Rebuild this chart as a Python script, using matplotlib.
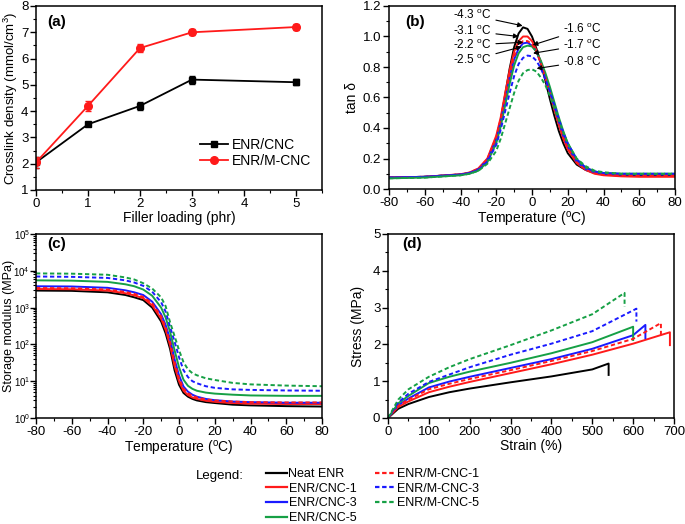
import numpy as np
import matplotlib
matplotlib.use("Agg")
import matplotlib.pyplot as plt
from matplotlib.ticker import MultipleLocator, LogLocator, NullFormatter
from matplotlib.lines import Line2D

plt.rcParams['font.family'] = ['Liberation Sans', 'DejaVu Sans']
plt.rcParams['mathtext.fontset'] = 'custom'
plt.rcParams['mathtext.rm'] = 'Liberation Sans'
plt.rcParams['mathtext.it'] = 'Liberation Sans:italic'
plt.rcParams['mathtext.bf'] = 'Liberation Sans:bold'
plt.rcParams['axes.unicode_minus'] = False

# (a) crosslink density
loading = [0, 1, 2, 3, 5]
cnc_density = [2.05, 3.5, 4.2, 5.2, 5.1]
cnc_err = [0.2, 0.06, 0.15, 0.15, 0.12]
mcnc_density = [2.05, 4.2, 6.4, 7.0, 7.2]
mcnc_err = [0.2, 0.18, 0.15, 0.12, 0.12]

# sample names / styles
names = ['Neat ENR', 'ENR/CNC-1', 'ENR/CNC-3', 'ENR/CNC-5',
         'ENR/M-CNC-1', 'ENR/M-CNC-3', 'ENR/M-CNC-5']
colors = ['black', '#ff1a1a', '#1a1aff', '#16a045', '#ff1a1a', '#1a1aff', '#16a045']
dashed = [False, False, False, False, True, True, True]

# (b) tan delta
temp_b = [-80, -60, -40, -35, -30, -25, -20, -17.5, -15, -12.5, -10, -7.5, -5, -2.5,
          0, 2.5, 5, 7.5, 10, 12.5, 15, 17.5, 20, 25, 30, 35, 40, 50, 60, 80]
tan_neat = [0.075, 0.08, 0.095, 0.105, 0.13, 0.19, 0.33, 0.45, 0.62, 0.79, 0.93, 1.02, 1.06, 1.05,
            1.00, 0.92, 0.82, 0.71, 0.59, 0.48, 0.38, 0.30, 0.235, 0.16, 0.125, 0.105, 0.095, 0.088, 0.085, 0.085]
tan_cnc1 = [0.075, 0.08, 0.097, 0.108, 0.135, 0.2, 0.35, 0.47, 0.63, 0.78, 0.9, 0.97, 1.0, 1.0,
            0.97, 0.91, 0.83, 0.73, 0.63, 0.52, 0.42, 0.33, 0.26, 0.17, 0.125, 0.1, 0.09, 0.083, 0.08, 0.08]
tan_cnc3 = [0.075, 0.08, 0.095, 0.105, 0.13, 0.19, 0.32, 0.44, 0.58, 0.73, 0.85, 0.92, 0.955, 0.96,
            0.94, 0.9, 0.83, 0.74, 0.64, 0.54, 0.44, 0.35, 0.28, 0.18, 0.13, 0.11, 0.1, 0.095, 0.095, 0.095]
tan_cnc5 = [0.07, 0.075, 0.09, 0.1, 0.12, 0.175, 0.3, 0.41, 0.55, 0.69, 0.81, 0.89, 0.93, 0.94,
            0.935, 0.9, 0.84, 0.76, 0.67, 0.57, 0.47, 0.38, 0.3, 0.195, 0.14, 0.115, 0.105, 0.1, 0.1, 0.1]
tan_mcnc1 = [0.075, 0.08, 0.096, 0.107, 0.133, 0.195, 0.34, 0.46, 0.61, 0.75, 0.87, 0.94, 0.97, 0.97,
             0.95, 0.9, 0.82, 0.73, 0.63, 0.53, 0.43, 0.34, 0.27, 0.175, 0.13, 0.105, 0.095, 0.09, 0.09, 0.09]
tan_mcnc3 = [0.075, 0.08, 0.095, 0.105, 0.125, 0.18, 0.29, 0.39, 0.51, 0.63, 0.74, 0.82, 0.86, 0.875,
             0.87, 0.84, 0.79, 0.72, 0.64, 0.55, 0.46, 0.37, 0.3, 0.195, 0.14, 0.115, 0.105, 0.1, 0.1, 0.1]
tan_mcnc5 = [0.07, 0.075, 0.09, 0.1, 0.12, 0.165, 0.25, 0.33, 0.43, 0.53, 0.63, 0.71, 0.76, 0.78,
             0.785, 0.77, 0.73, 0.68, 0.61, 0.53, 0.45, 0.37, 0.3, 0.2, 0.15, 0.12, 0.11, 0.1, 0.1, 0.1]

# (c) storage modulus
temp_c = [-80, -60, -40, -30, -25, -20, -15, -10, -7.5, -5, -2.5, 0, 2.5, 5, 7.5, 10, 15, 20, 30, 40, 60, 80]
mod_neat = [2900, 2850, 2600, 2200, 1900, 1600, 1000, 420, 200, 75, 20, 8, 4.8, 3.8, 3.3, 3.0, 2.7, 2.55, 2.3, 2.2, 2.1, 2.05]
mod_cnc1 = [3200, 3150, 2900, 2450, 2150, 1800, 1150, 500, 250, 95, 26, 10, 5.5, 4.2, 3.6, 3.3, 2.95, 2.75, 2.55, 2.45, 2.4, 2.4]
mod_cnc3 = [3800, 3750, 3450, 2950, 2600, 2200, 1450, 660, 340, 140, 40, 14.5, 7.2, 5.2, 4.3, 3.8, 3.3, 3.05, 2.8, 2.7, 2.6, 2.6]
mod_cnc5 = [5500, 5400, 5000, 4300, 3800, 3100, 2100, 1000, 540, 220, 70, 24, 11, 7.5, 6.2, 5.5, 4.9, 4.6, 4.3, 4.1, 4.0, 4.0]
mod_mcnc1 = [3400, 3350, 3100, 2650, 2350, 1950, 1300, 580, 290, 115, 33, 12, 6.3, 4.7, 4.0, 3.6, 3.2, 3.0, 2.8, 2.7, 2.65, 2.65]
mod_mcnc3 = [7000, 6850, 6400, 5500, 4800, 3900, 2700, 1400, 780, 300, 120, 45, 20, 13, 10, 8.8, 7.3, 6.6, 6.0, 5.8, 5.6, 5.5]
mod_mcnc5 = [8500, 8350, 7800, 6600, 5800, 4600, 3300, 1900, 1100, 400, 170, 70, 33, 21, 16.5, 14.5, 12, 10.8, 9.0, 8.2, 7.6, 7.3]

# (d) stress-strain (last point = break drop)
strain_neat = [0, 25, 50, 100, 150, 200, 300, 400, 500, 540, 540]
stress_neat = [0, 0.25, 0.38, 0.57, 0.70, 0.80, 0.97, 1.13, 1.32, 1.48, 1.17]
strain_cnc1 = [0, 25, 50, 100, 150, 200, 300, 400, 500, 600, 690, 690]
stress_cnc1 = [0, 0.3, 0.45, 0.7, 0.85, 0.98, 1.22, 1.46, 1.72, 2.02, 2.33, 1.98]
strain_cnc3 = [0, 25, 50, 100, 150, 200, 300, 400, 500, 600, 630, 630]
stress_cnc3 = [0, 0.35, 0.53, 0.83, 0.99, 1.12, 1.36, 1.6, 1.88, 2.25, 2.53, 2.17]
strain_cnc5 = [0, 25, 50, 100, 150, 200, 300, 400, 500, 600, 600]
stress_cnc5 = [0, 0.4, 0.6, 0.95, 1.12, 1.26, 1.5, 1.76, 2.06, 2.48, 2.12]
strain_mcnc1 = [0, 25, 50, 100, 150, 200, 300, 400, 500, 600, 668, 668]
stress_mcnc1 = [0, 0.33, 0.5, 0.78, 0.93, 1.06, 1.3, 1.55, 1.82, 2.15, 2.58, 2.21]
strain_mcnc3 = [0, 25, 50, 100, 150, 200, 300, 400, 500, 608, 608]
stress_mcnc3 = [0, 0.42, 0.66, 0.98, 1.18, 1.38, 1.72, 2.02, 2.36, 2.97, 2.62]
strain_mcnc5 = [0, 25, 50, 100, 150, 200, 300, 400, 500, 579, 579]
stress_mcnc5 = [0, 0.5, 0.78, 1.12, 1.38, 1.6, 1.98, 2.38, 2.82, 3.4, 3.02]

tan_all = [tan_neat, tan_cnc1, tan_cnc3, tan_cnc5, tan_mcnc1, tan_mcnc3, tan_mcnc5]
mod_all = [mod_neat, mod_cnc1, mod_cnc3, mod_cnc5, mod_mcnc1, mod_mcnc3, mod_mcnc5]
strain_all = [strain_neat, strain_cnc1, strain_cnc3, strain_cnc5, strain_mcnc1, strain_mcnc3, strain_mcnc5]
stress_all = [stress_neat, stress_cnc1, stress_cnc3, stress_cnc5, stress_mcnc1, stress_mcnc3, stress_mcnc5]

DASH = (0, (2.2, 1.4))
deg = r'$^{\mathrm{o}}$C'
LBL = 10

fig = plt.figure(figsize=(6.85, 5.24), dpi=100)
W, H = 685, 524


def px_axes(l, t, r, b):
    return fig.add_axes([l / W, 1 - b / H, (r - l) / W, (b - t) / H])


def style(ax):
    for s in ax.spines.values():
        s.set_linewidth(1.1)
    ax.tick_params(which='both', direction='out', top=False, right=False, labelsize=9.5, pad=1.5)
    ax.tick_params(which='major', length=4, width=1)
    ax.tick_params(which='minor', length=2, width=0.8)


ax_a = px_axes(36, 6, 322, 190)
ax_b = px_axes(389, 6, 675, 189)
ax_c = px_axes(36, 234, 322, 418)
ax_d = px_axes(388, 234, 674, 418)

# ---- (a)
ax_a.errorbar(loading, cnc_density, yerr=cnc_err, color='black', marker='s', ms=5,
              lw=1.3, capsize=2.5, elinewidth=0.9)
ax_a.errorbar(loading, mcnc_density, yerr=mcnc_err, color='#ff1a1a', marker='o', ms=5.5,
              lw=1.3, capsize=2.5, elinewidth=0.9)
ax_a.set_xlim(0, 5.5)
ax_a.set_ylim(1, 8)
ax_a.xaxis.set_major_locator(MultipleLocator(1))
ax_a.xaxis.set_minor_locator(MultipleLocator(0.5))
ax_a.yaxis.set_major_locator(MultipleLocator(1))
ax_a.yaxis.set_minor_locator(MultipleLocator(0.5))
ax_a.set_xlabel('Filler loading (phr)', fontsize=LBL, labelpad=1)
ax_a.set_ylabel('Crosslink density (mmol/cm$^3$)', fontsize=9.5)
ax_a.yaxis.set_label_coords(-0.055, 0.5)
ax_a.text(0.04, 0.95, '(a)', transform=ax_a.transAxes, fontsize=11, fontweight='bold', va='top')
leg_a = [Line2D([], [], color='black', marker='s', ms=5, lw=1.3),
         Line2D([], [], color='#ff1a1a', marker='o', ms=5.5, lw=1.3)]
ax_a.legend(leg_a, ['ENR/CNC', 'ENR/M-CNC'], loc='upper left', bbox_to_anchor=(0.55, 0.32),
            frameon=False, fontsize=10, handlelength=2.0, handletextpad=0.3,
            labelspacing=0.15, borderpad=0)
style(ax_a)

# ---- (b)
for y, c, d in zip(tan_all, colors, dashed):
    ax_b.plot(temp_b, y, color=c, lw=1.4, ls=DASH if d else '-')
ax_b.set_xlim(-80, 80)
ax_b.set_ylim(0, 1.2)
ax_b.xaxis.set_major_locator(MultipleLocator(20))
ax_b.xaxis.set_minor_locator(MultipleLocator(10))
ax_b.yaxis.set_major_locator(MultipleLocator(0.2))
ax_b.yaxis.set_minor_locator(MultipleLocator(0.1))
ax_b.set_xlabel('Temperature (' + deg + ')', fontsize=LBL, labelpad=1)
ax_b.set_ylabel('tan δ', fontsize=LBL)
ax_b.yaxis.set_label_coords(-0.105, 0.5)
ax_b.text(0.056, 0.95, '(b)', transform=ax_b.transAxes, fontsize=11, fontweight='bold', va='top')

arrow = dict(arrowstyle='-|>', color='black', lw=0.8, mutation_scale=7, shrinkA=1, shrinkB=0)
left_notes = [('-4.3 ', 1.14, (-5.2, 1.07)), ('-3.1 ', 1.035, (-7.5, 1.0)),
              ('-2.2 ', 0.945, (-4.9, 0.962)), ('-2.5 ', 0.846, (-5.8, 0.933))]
for txt, ty, xy in left_notes:
    ax_b.annotate(txt + deg, xy=xy, xytext=(-22.5, ty), ha='right', va='center',
                  fontsize=8.5, arrowprops=arrow)
right_notes = [('-1.6 ', 1.047, (0.4, 0.944)), ('-1.7 ', 0.944, (0.6, 0.89)),
               ('-0.8 ', 0.835, (2.6, 0.79))]
for txt, ty, xy in right_notes:
    ax_b.annotate(txt + deg, xy=xy, xytext=(17.2, ty), ha='left', va='center',
                  fontsize=8.5, arrowprops=arrow)
style(ax_b)

# ---- (c)
for y, c, d in zip(mod_all, colors, dashed):
    ax_c.plot(temp_c, y, color=c, lw=1.4, ls=DASH if d else '-')
ax_c.set_yscale('log')
ax_c.set_xlim(-80, 80)
ax_c.set_ylim(1, 1e5)
ax_c.xaxis.set_major_locator(MultipleLocator(20))
ax_c.xaxis.set_minor_locator(MultipleLocator(10))
ax_c.yaxis.set_major_locator(LogLocator(base=10, numticks=10))
ax_c.yaxis.set_minor_locator(LogLocator(base=10, subs=np.arange(2, 10), numticks=10))
ax_c.yaxis.set_minor_formatter(NullFormatter())
ax_c.set_xlabel('Temperature (' + deg + ')', fontsize=LBL, labelpad=1)
ax_c.set_ylabel('Storage modulus (MPa)', fontsize=9)
ax_c.yaxis.set_label_coords(-0.075, 0.5)
ax_c.text(0.04, 0.985, '(c)', transform=ax_c.transAxes, fontsize=11, fontweight='bold', va='top')
style(ax_c)
ax_c.tick_params(axis='y', which='major', labelsize=7, pad=0.3)

# ---- (d)
for x, y, c, d in zip(strain_all, stress_all, colors, dashed):
    ax_d.plot(x, y, color=c, lw=1.4, ls=DASH if d else '-')
ax_d.set_xlim(0, 700)
ax_d.set_ylim(0, 5)
ax_d.xaxis.set_major_locator(MultipleLocator(100))
ax_d.xaxis.set_minor_locator(MultipleLocator(50))
ax_d.yaxis.set_major_locator(MultipleLocator(1))
ax_d.yaxis.set_minor_locator(MultipleLocator(0.5))
ax_d.set_xlabel('Strain (%)', fontsize=LBL, labelpad=1)
ax_d.set_ylabel('Stress (MPa)', fontsize=LBL)
ax_d.yaxis.set_label_coords(-0.08, 0.5)
ax_d.text(0.05, 0.985, '(d)', transform=ax_d.transAxes, fontsize=11, fontweight='bold', va='top')
style(ax_d)

# ---- bottom legend
fig.text(196 / W, 1 - 476 / H, 'Legend:', fontsize=9.5, va='center', ha='left')
handles = [Line2D([], [], color=c, lw=1.6, ls=(0, (2, 1.2)) if d else '-')
           for c, d in zip(colors, dashed)]
leg_kw = dict(frameon=False, fontsize=9, handlelength=1.7, handletextpad=0.1,
              labelspacing=0.22, borderpad=0, borderaxespad=0, loc='upper left')
fig.legend(handles[:4], names[:4], bbox_to_anchor=(266 / W, 1 - 468 / H), **leg_kw)
fig.legend(handles[4:], names[4:], bbox_to_anchor=(375 / W, 1 - 468 / H), **leg_kw)

fig.savefig('out.png', dpi=100)
